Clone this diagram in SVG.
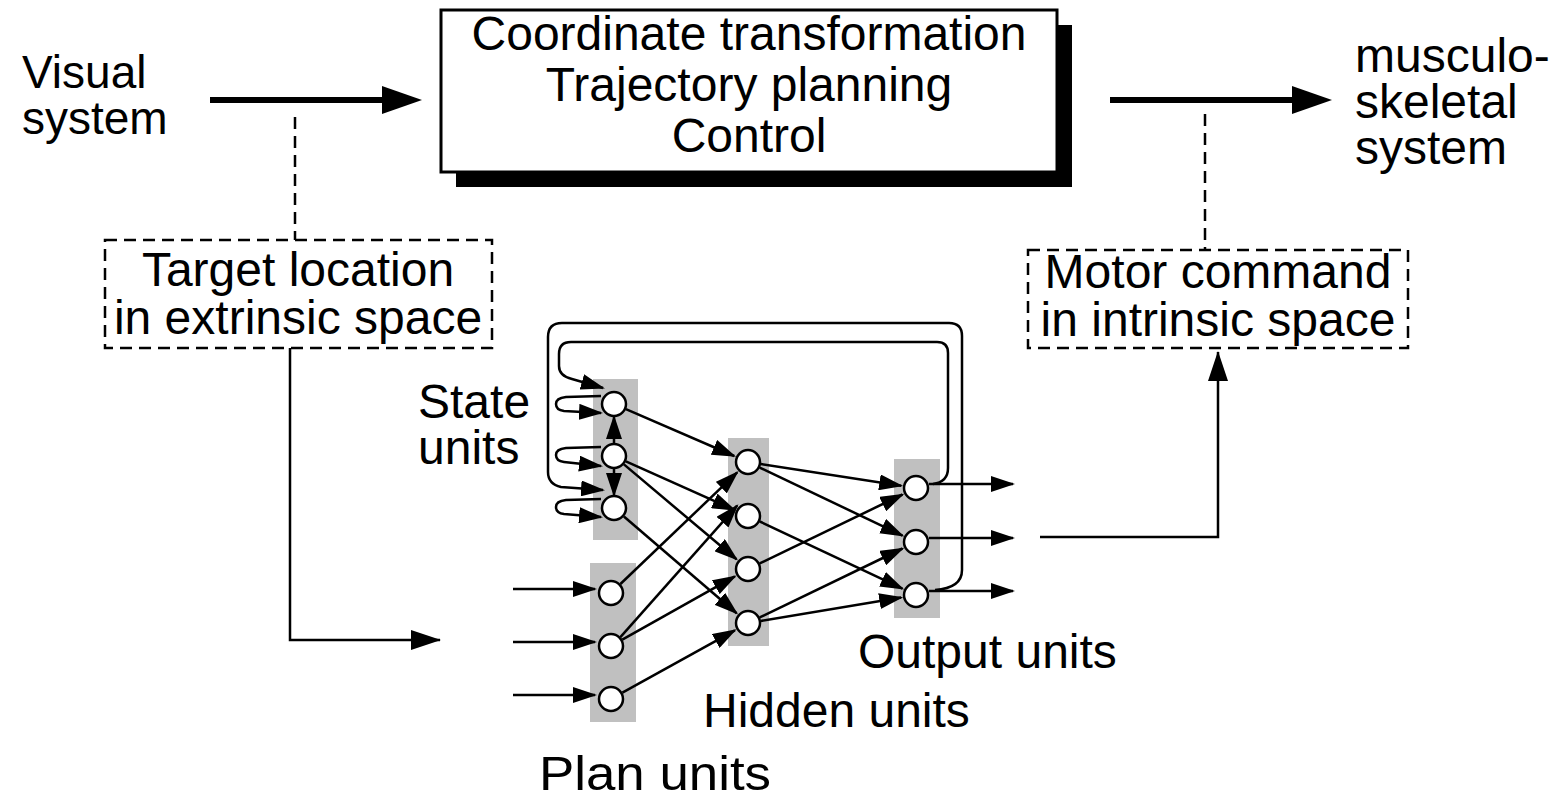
<svg xmlns="http://www.w3.org/2000/svg" width="1557" height="798" viewBox="0 0 1557 798">
<style>
text{font-family:"Liberation Sans",Arial,sans-serif;font-size:48px;fill:#000}
.c{text-anchor:middle}
.s46{font-size:46px}
.ln{fill:none;stroke:#000;stroke-width:2.5}
.dash{fill:none;stroke:#000;stroke-width:2.5;stroke-dasharray:12 7}
.big{fill:none;stroke:#000;stroke-width:6}
.unit{fill:#fff;stroke:#000;stroke-width:2.5}
.band{fill:#c0c0c0}
</style>
<defs>
<marker id="mBig" markerUnits="userSpaceOnUse" markerWidth="42" markerHeight="28" refX="18" refY="14" orient="auto"><path d="M0,0 L40,14 L0,28 Z" fill="#000"/></marker>
<marker id="mMid" markerUnits="userSpaceOnUse" markerWidth="32" markerHeight="20" refX="29" refY="10" orient="auto"><path d="M0,0 L30,10 L0,20 Z" fill="#000"/></marker>
<marker id="mSm" markerUnits="userSpaceOnUse" markerWidth="26" markerHeight="16" refX="22" refY="8" orient="auto"><path d="M0,0 L24,8 L0,16 Z" fill="#000"/></marker>
</defs>

<g id="main-box">
<rect x="456" y="25" width="616" height="162" fill="#000"/>
<rect x="441" y="10" width="616" height="162" fill="#fff" stroke="#000" stroke-width="3"/>
<text class="c" x="749" y="50">Coordinate transformation</text>
<text class="c" x="749" y="101">Trajectory planning</text>
<text class="c" x="749" y="152">Control</text>
</g>

<g id="visual-system">
<text class="s46" x="22" y="88">Visual</text>
<text class="s46" x="22" y="134">system</text>
</g>

<g id="musculo-skeletal">
<text x="1355" y="72">musculo-</text>
<text x="1355" y="118">skeletal</text>
<text x="1355" y="164">system</text>
</g>

<g id="target-box">
<rect class="dash" x="105" y="240" width="387" height="108"/>
<text class="c" x="298" y="286">Target location</text>
<text class="c" x="298" y="334">in extrinsic space</text>
</g>

<g id="motor-box">
<rect class="dash" x="1028" y="250" width="380" height="98"/>
<text class="c" x="1218" y="288">Motor command</text>
<text class="c" x="1218" y="336">in intrinsic space</text>
</g>

<g id="state-units">
<rect class="band" x="593" y="379" width="45" height="161"/>
<circle class="unit" cx="614" cy="404" r="12"/>
<circle class="unit" cx="614" cy="456" r="12"/>
<circle class="unit" cx="614" cy="508" r="12"/>
<text x="418" y="418">State</text>
<text x="418" y="464">units</text>
</g>

<g id="plan-units">
<rect class="band" x="590" y="563" width="46" height="159"/>
<circle class="unit" cx="611" cy="593" r="12"/>
<circle class="unit" cx="611" cy="646" r="12"/>
<circle class="unit" cx="611" cy="699" r="12"/>
<text x="539" y="790" textLength="232" lengthAdjust="spacingAndGlyphs">Plan units</text>
</g>

<g id="hidden-units">
<rect class="band" x="728" y="438" width="41" height="208"/>
<circle class="unit" cx="748" cy="462" r="12"/>
<circle class="unit" cx="748" cy="516" r="12"/>
<circle class="unit" cx="748" cy="569" r="12"/>
<circle class="unit" cx="748" cy="623" r="12"/>
<text x="703" y="727">Hidden units</text>
</g>

<g id="output-units">
<rect class="band" x="894" y="459" width="46" height="159"/>
<circle class="unit" cx="916" cy="488" r="12"/>
<circle class="unit" cx="916" cy="542" r="12"/>
<circle class="unit" cx="916" cy="595" r="12"/>
<text x="858" y="668">Output units</text>
</g>

<g id="connectors">
<line class="big" x1="210" y1="100" x2="400" y2="100" marker-end="url(#mBig)"/>
<line class="big" x1="1110" y1="100" x2="1310" y2="100" marker-end="url(#mBig)"/>
<line class="dash" x1="295" y1="117" x2="295" y2="240"/>
<line class="dash" x1="1205" y1="114" x2="1205" y2="250"/>
<path class="ln" d="M290,348 L290,640 L440,640" marker-end="url(#mMid)"/>
<path class="ln" d="M1040,537 L1218,537 L1218,352" marker-end="url(#mMid)"/>
<line class="ln" x1="513" y1="589" x2="595" y2="589" marker-end="url(#mSm)"/>
<line class="ln" x1="513" y1="642" x2="595" y2="642" marker-end="url(#mSm)"/>
<line class="ln" x1="513" y1="695" x2="595" y2="695" marker-end="url(#mSm)"/>
<line class="ln" x1="929" y1="484" x2="1013" y2="484" marker-end="url(#mSm)"/>
<line class="ln" x1="929" y1="538" x2="1013" y2="538" marker-end="url(#mSm)"/>
<line class="ln" x1="929" y1="591" x2="1013" y2="591" marker-end="url(#mSm)"/>
<line class="ln" x1="614" y1="444" x2="614" y2="417" marker-end="url(#mSm)"/>
<line class="ln" x1="614" y1="468" x2="614" y2="495" marker-end="url(#mSm)"/>
<path class="ln" d="M601,396 L566,397 Q556,398 556,404 Q556,410 564,411 L601,413" marker-end="url(#mSm)"/>
<path class="ln" d="M601,447 L566,448 Q556,449 556,455 Q556,461 564,462 L601,466" marker-end="url(#mSm)"/>
<path class="ln" d="M601,499 L566,500 Q556,501 556,507 Q556,513 564,514 L601,517" marker-end="url(#mSm)"/>
<path class="ln" d="M933,484 Q948,482 948,468 L948,353 Q948,342 937,342 L571,342 Q559,342 559,354 L559,366 Q559,376 572,379 L603,388" marker-end="url(#mSm)"/>
<path class="ln" d="M935,590 Q962,588 962,570 L962,336 Q962,323 949,323 L562,323 Q548,323 548,337 L548,472 Q548,484 561,487 L603,490" marker-end="url(#mSm)"/>
<line class="ln" x1="625.9" y1="409.2" x2="734.2" y2="456.0" marker-end="url(#mSm)"/>
<line class="ln" x1="625.9" y1="461.3" x2="734.3" y2="509.9" marker-end="url(#mSm)"/>
<line class="ln" x1="623.9" y1="464.4" x2="736.5" y2="559.3" marker-end="url(#mSm)"/>
<line class="ln" x1="623.9" y1="516.5" x2="736.6" y2="613.2" marker-end="url(#mSm)"/>
<line class="ln" x1="620.4" y1="584.0" x2="737.2" y2="472.4" marker-end="url(#mSm)"/>
<line class="ln" x1="620.4" y1="637.1" x2="737.1" y2="505.7" marker-end="url(#mSm)"/>
<line class="ln" x1="622.3" y1="639.6" x2="734.9" y2="576.4" marker-end="url(#mSm)"/>
<line class="ln" x1="622.4" y1="692.7" x2="734.9" y2="630.3" marker-end="url(#mSm)"/>
<line class="ln" x1="760.8" y1="464.0" x2="901.2" y2="485.7" marker-end="url(#mSm)"/>
<line class="ln" x1="759.7" y1="467.6" x2="902.5" y2="535.6" marker-end="url(#mSm)"/>
<line class="ln" x1="759.8" y1="521.5" x2="902.4" y2="588.6" marker-end="url(#mSm)"/>
<line class="ln" x1="759.7" y1="563.4" x2="902.5" y2="494.5" marker-end="url(#mSm)"/>
<line class="ln" x1="759.7" y1="617.4" x2="902.5" y2="548.5" marker-end="url(#mSm)"/>
<line class="ln" x1="760.8" y1="620.9" x2="901.2" y2="597.5" marker-end="url(#mSm)"/>
</g>
</svg>
